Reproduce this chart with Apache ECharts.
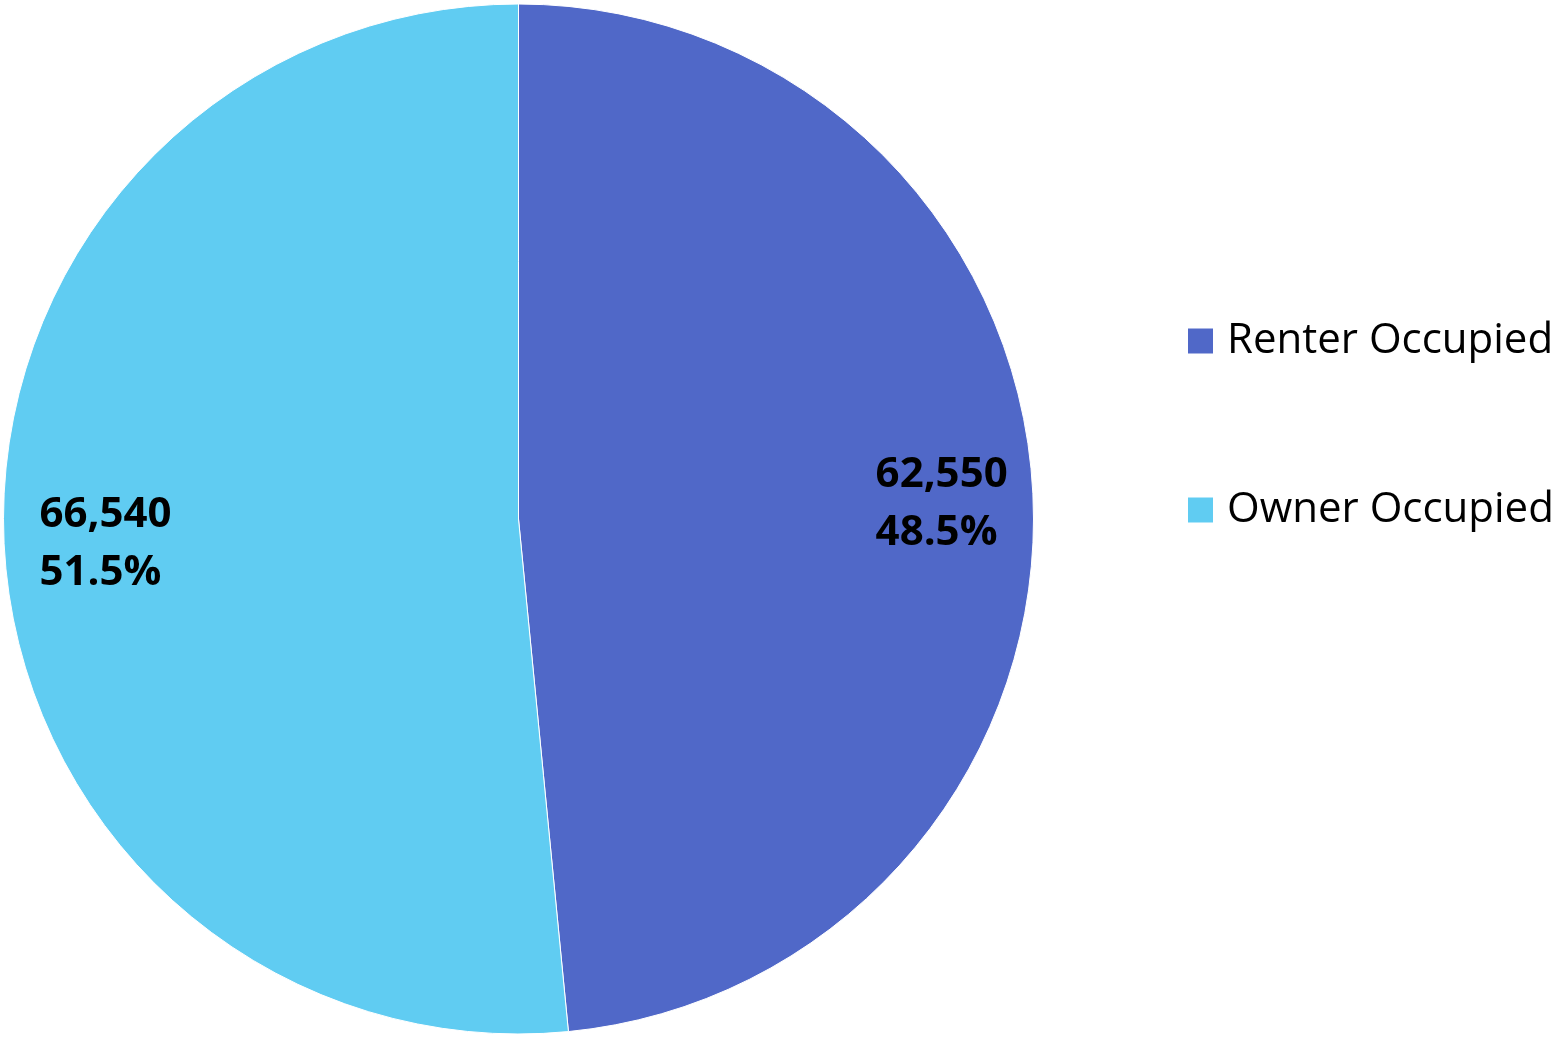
<!DOCTYPE html>
<html>
<head>
<meta charset="utf-8">
<title>Occupied Housing Units</title>
<script src="https://cdn.jsdelivr.net/npm/echarts@6/dist/echarts.min.js"></script>
<style>
  html, body { margin: 0; padding: 0; background: #ffffff; }
  #chart { width: 1552px; height: 1038px; }
</style>
</head>
<body>
<div id="chart"></div>
<script>
// Occupied housing units by tenure
const categories = ['Renter Occupied', 'Owner Occupied'];
const units = [62550, 66540];
const colors = ['#5068C8', '#60CCF2'];

const total = units.reduce((a, b) => a + b, 0);
const slices = categories.map((name, i) => ({ name, value: units[i] }));

const FONT = '"Open Sans", "Noto Sans", sans-serif';
const CENTER = [518.5, 519];
const R = 515;

const chart = echarts.init(document.getElementById('chart'), null, { renderer: 'canvas' });

chart.setOption({
  animation: false,
  color: colors,
  legend: {
    orient: 'vertical',
    left: 1181,
    top: 311,
    itemWidth: 27,
    itemHeight: 27,
    itemGap: 119,
    icon: 'rect',
    data: categories,
    textStyle: {
      fontFamily: FONT,
      fontSize: 42,
      color: '#000000',
      lineHeight: 50,
      padding: [0, 0, 0, 8]
    }
  },
  series: [
    {
      // filled slices
      type: 'pie',
      center: CENTER,
      radius: [0, R],
      startAngle: 90,
      clockwise: true,
      silent: true,
      label: { show: false },
      labelLine: { show: false },
      itemStyle: { borderColor: '#ffffff', borderWidth: 1 },
      data: slices
    },
    {
      // transparent ring that carries the value / share labels near the rim
      type: 'pie',
      center: CENTER,
      radius: [R * 0.614, R],
      startAngle: 90,
      clockwise: true,
      silent: true,
      legendHoverLink: false,
      itemStyle: { color: 'rgba(0,0,0,0)', borderWidth: 0 },
      labelLine: { show: false },
      label: {
        show: true,
        position: 'inside',
        offset: [6, 5],
        formatter: (p) => {
          const v = p.value.toLocaleString('en-US');
          const pct = (p.value / total * 100).toFixed(1) + '%';
          return '{t|' + v + '}\n{t|' + pct + '}';
        },
        rich: {
          t: {
            fontFamily: FONT,
            fontWeight: 'bold',
            fontSize: 42,
            lineHeight: 58,
            color: '#000000',
            width: 134,
            align: 'left'
          }
        }
      },
      data: slices
    }
  ]
});
</script>
</body>
</html>
